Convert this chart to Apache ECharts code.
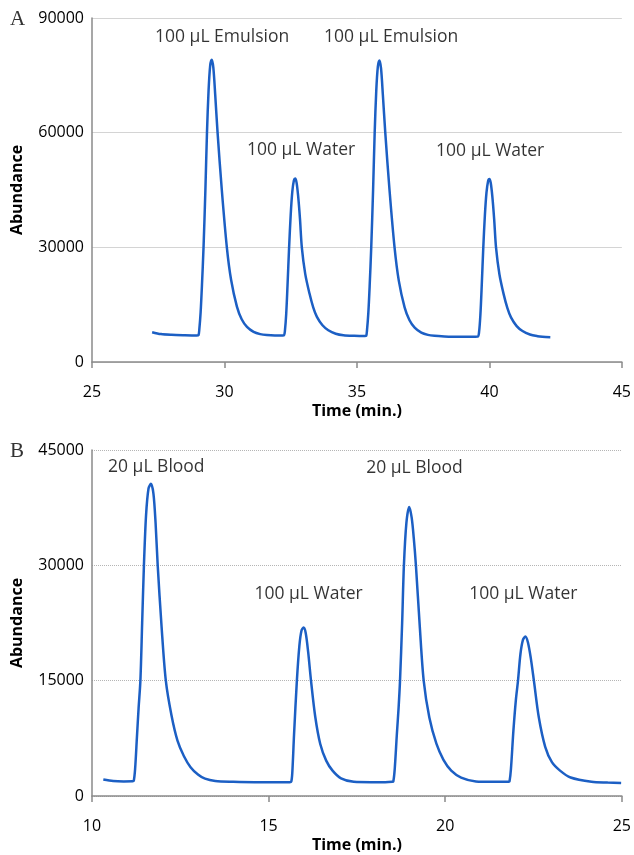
<!DOCTYPE html>
<html>
<head>
<meta charset="utf-8">
<script src="https://cdn.jsdelivr.net/npm/echarts@6/dist/echarts.min.js"></script>
<style>
html,body{margin:0;padding:0;background:#fff;}
#chart{width:634px;height:855px;}
</style>
</head>
<body>
<div id="chart"></div>
<script>
// ---- Panel A data: time (min) / abundance ----
const timeA = [27.27,27.6,28.0,28.5,28.95,29.02,29.05,29.1,29.15,29.21,29.28,29.34,29.4,29.46,29.52,29.58,29.65,29.74,29.9,30.09,30.25,30.47,30.65,30.85,31.1,31.35,31.6,31.9,32.2,
  32.25,32.28,32.33,32.38,32.44,32.5,32.56,32.62,32.67,32.72,32.78,32.85,32.92,33.05,33.21,33.35,33.49,33.7,33.92,34.2,34.49,34.9,35.3,
  35.35,35.38,35.43,35.48,35.54,35.61,35.67,35.73,35.79,35.85,35.91,35.98,36.07,36.23,36.42,36.58,36.8,36.98,37.18,37.43,37.68,37.93,38.3,38.8,39.3,
  39.56,39.61,39.66,39.71,39.77,39.83,39.89,39.95,40.0,40.05,40.11,40.18,40.25,40.38,40.54,40.68,40.82,41.03,41.25,41.53,41.82,42.0,42.3];
const abundA = [7800,7300,7100,7000,6950,7050,8500,13000,20000,30000,45000,60000,71000,77500,79100,77000,70000,60000,45000,30000,21500,14500,11200,9200,7900,7300,7050,6950,6950,
  7000,8000,12500,20000,30000,38500,44500,47500,48000,47000,43500,37500,30000,23000,17900,14300,11800,9600,8300,7400,7000,6850,6800,
  6850,8300,12800,19800,30000,45000,60000,71000,77300,78900,76800,69800,60000,45000,30000,21300,14300,11000,9000,7700,7100,6850,6700,6600,6600,
  6650,7800,12300,19800,30000,38400,44300,47300,47900,46900,43400,37400,30000,22900,17700,14100,11600,9400,8100,7200,6750,6600,6500];
const yTicksA = [0,30000,60000,90000];
const labelTextA = ['100 µL Emulsion','100 µL Water','100 µL Emulsion','100 µL Water'];
const labelTimeA = [29.91,32.89,36.29,40.03];
const labelAbundA = [84900,55400,84900,55100];

// ---- Panel B data ----
const timeB = [10.32,10.6,10.9,11.15,11.18,11.22,11.27,11.32,11.37,11.42,11.47,11.53,11.6,11.67,11.74,11.8,11.86,11.97,12.09,12.25,12.42,12.6,12.79,13.0,13.2,13.49,14.0,14.6,15.2,15.6,
  15.64,15.67,15.72,15.8,15.87,15.93,15.99,16.05,16.12,16.2,16.32,16.46,16.63,16.81,17.05,17.41,17.9,18.3,18.5,
  18.53,18.57,18.63,18.68,18.72,18.78,18.83,18.9,18.98,19.05,19.11,19.17,19.28,19.39,19.55,19.75,19.95,20.17,20.45,20.87,21.3,21.8,
  21.82,21.86,21.93,22.0,22.06,22.13,22.2,22.27,22.34,22.42,22.51,22.65,22.83,23.02,23.25,23.55,24.14,24.6,24.98];
const abundB = [2150,1950,1900,1920,1950,3500,7500,11500,15000,22500,30000,36500,40000,40600,39300,35500,30000,22000,15000,10500,7200,5200,3750,2800,2250,1950,1850,1800,1800,1800,
  1850,3000,8000,15000,19500,21500,21900,21200,18700,15000,10300,6800,4600,3300,2300,1850,1800,1800,1850,
  1900,3500,8000,11500,15000,22500,30000,35500,37600,36200,33500,30000,22000,15000,10200,6800,4700,3300,2400,1900,1850,1850,
  1900,3500,8500,12500,15000,18500,20300,20750,20000,18000,15000,10200,6400,4400,3300,2400,1850,1750,1700];
const yTicksB = [0,15000,30000,45000];
const labelTextB = ['20 µL Blood','100 µL Water','20 µL Blood','100 µL Water'];
const labelTimeB = [11.82,16.13,19.13,22.21];
const labelAbundB = [42740,26220,42610,26220];

const FONT = 'Open Sans';
const lineColor = '#1c5fc4';

function pairs(xs, ys){ return xs.map((x,i)=>[x, ys[i]]); }
function labelData(xs, ys, ts){ return xs.map((x,i)=>({value:[x, ys[i]], name: ts[i]})); }

function xAxisCfg(gridIndex, min, max){
  return {
    gridIndex, type:'value', min, max, interval:5,
    name:'Time (min.)', nameLocation:'middle', nameGap:41,
    nameTextStyle:{fontFamily:FONT, fontWeight:'bold', fontSize:16, color:'#000'},
    axisLine:{show:true, onZero:false, lineStyle:{color:'#8a8a8a', width:1.5}},
    axisTick:{show:true, inside:false, length:6, lineStyle:{color:'#8a8a8a', width:1.5}},
    axisLabel:{fontFamily:FONT, fontSize:16, color:'#000', margin:22},
    splitLine:{show:false}
  };
}
function yAxisCfg(gridIndex, max, interval, dotted, ticks){
  return {
    gridIndex, type:'value', min:0, max, interval,
    name:'Abundance', nameLocation:'middle', nameGap:67,
    nameTextStyle:{fontFamily:FONT, fontWeight:'bold', fontSize:16, color:'#000'},
    axisLine:{show:true, lineStyle:{color:'#8a8a8a', width:1.5}},
    axisTick:{show:false},
    axisLabel:{fontFamily:FONT, fontSize:16, color:'#000', margin:8,
      formatter:v=>ticks.includes(v) ? String(v) : ''},
    splitLine:{show:true, lineStyle:{color: dotted ? '#b5b5b5' : '#d4d4d4', width:1, type: dotted ? 'dotted' : 'solid'}}
  };
}

const chart = echarts.init(document.getElementById('chart'), null, {renderer:'canvas'});
chart.setOption({
  animation:false,
  backgroundColor:'#fff',
  grid:[
    {left:92, top:18, width:530, height:344},
    {left:92, top:450, width:535, height:346}
  ],
  xAxis:[xAxisCfg(0,25,45), xAxisCfg(1,10,25)],
  yAxis:[yAxisCfg(0,90000,30000,false,yTicksA), yAxisCfg(1,45000,15000,true,yTicksB)],
  graphic:[
    {type:'text', left:10, top:9, style:{text:'A', font:'21px "Liberation Serif"', fill:'#333'}},
    {type:'text', left:10, top:441, style:{text:'B', font:'21px "Liberation Serif"', fill:'#333'}}
  ],
  series:[
    {type:'line', xAxisIndex:0, yAxisIndex:0, data:pairs(timeA, abundA), showSymbol:false, smooth:0.3,
      lineStyle:{color:lineColor, width:2.5}, silent:true},
    {type:'line', xAxisIndex:1, yAxisIndex:1, data:pairs(timeB, abundB), showSymbol:false, smooth:0.3,
      lineStyle:{color:lineColor, width:2.5}, silent:true},
    {type:'scatter', xAxisIndex:0, yAxisIndex:0, symbolSize:0, silent:true, data:labelData(labelTimeA, labelAbundA, labelTextA),
      label:{show:true, position:'inside', formatter:p=>p.name, fontFamily:FONT, fontSize:17.5, color:'#000'}},
    {type:'scatter', xAxisIndex:1, yAxisIndex:1, symbolSize:0, silent:true, data:labelData(labelTimeB, labelAbundB, labelTextB),
      label:{show:true, position:'inside', formatter:p=>p.name, fontFamily:FONT, fontSize:17.5, color:'#000'}}
  ]
});
</script>
</body>
</html>
